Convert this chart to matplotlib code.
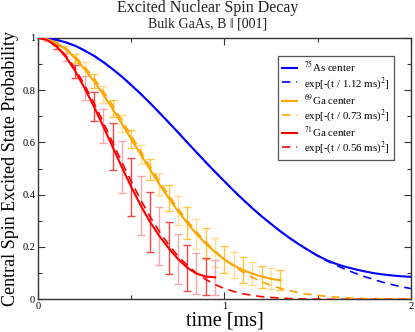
import numpy as np
import matplotlib
matplotlib.use("Agg")
import matplotlib.pyplot as plt

plt.rcParams['font.family'] = ['Liberation Serif', 'DejaVu Serif']
plt.rcParams['mathtext.fontset'] = 'stix'

# sample times [ms], 0.05 ms apart
t = np.round(np.arange(0, 2.0001, 0.05), 2)

# 75As centre (solid) and its Gaussian fit (dashed), 0 .. 2 ms
as_sim = [1.0, 0.998, 0.992, 0.982, 0.969, 0.951, 0.931, 0.907, 0.880, 0.851,
          0.819, 0.786, 0.751, 0.714, 0.677, 0.639, 0.600, 0.562, 0.524, 0.487,
          0.451, 0.415, 0.381, 0.348, 0.317, 0.288, 0.260, 0.234, 0.210, 0.188,
          0.167, 0.149, 0.135, 0.124, 0.115, 0.107, 0.100, 0.095, 0.091, 0.088,
          0.086]
as_fit = [1.0, 0.998, 0.992, 0.982, 0.969, 0.951, 0.931, 0.907, 0.880, 0.851,
          0.819, 0.786, 0.751, 0.714, 0.677, 0.639, 0.600, 0.562, 0.524, 0.487,
          0.451, 0.415, 0.381, 0.348, 0.317, 0.288, 0.260, 0.234, 0.210, 0.187,
          0.166, 0.147, 0.130, 0.114, 0.100, 0.087, 0.076, 0.065, 0.056, 0.048,
          0.041]

# 69Ga centre, 0 .. 1.3 ms
ga69_sim = [1.0, 0.995, 0.979, 0.955, 0.921, 0.880, 0.834, 0.783, 0.728, 0.671,
            0.613, 0.555, 0.497, 0.441, 0.388, 0.338, 0.292, 0.250, 0.213, 0.180,
            0.152, 0.130, 0.112, 0.098, 0.087, 0.078, 0.073]
ga69_fit = [1.0, 0.995, 0.981, 0.959, 0.928, 0.889, 0.845, 0.795, 0.741, 0.684,
            0.626, 0.567, 0.509, 0.453, 0.399, 0.348, 0.301, 0.258, 0.219, 0.184,
            0.153, 0.126, 0.103, 0.084, 0.067, 0.053, 0.042, 0.033, 0.025, 0.019,
            0.015, 0.011, 0.008, 0.006, 0.004, 0.003, 0.002, 0.002, 0.001, 0.001,
            0.001]
ga69_err = [0.0, 0.005, 0.010, 0.014, 0.018, 0.028, 0.028, 0.031, 0.032, 0.033,
            0.035, 0.036, 0.040, 0.043, 0.050, 0.055, 0.060, 0.058, 0.058, 0.055,
            0.052, 0.050, 0.048, 0.045, 0.042, 0.040, 0.038]

# 71Ga centre, 0 .. 0.95 ms
ga71_sim = [1.0, 0.991, 0.966, 0.926, 0.872, 0.807, 0.737, 0.661, 0.583, 0.505,
            0.430, 0.360, 0.297, 0.243, 0.196, 0.155, 0.121, 0.098, 0.087, 0.084]
ga71_fit = [1.0, 0.992, 0.969, 0.931, 0.880, 0.819, 0.751, 0.677, 0.600, 0.524,
            0.451, 0.381, 0.317, 0.260, 0.210, 0.166, 0.130, 0.100, 0.076, 0.056,
            0.041, 0.030, 0.021, 0.015, 0.010, 0.007, 0.005, 0.003, 0.002, 0.001,
            0.001, 0.0, 0.0, 0.0, 0.0, 0.0, 0.0, 0.0, 0.0, 0.0,
            0.0]
ga71_err = [0.0, 0.003, 0.008, 0.015, 0.025, 0.045, 0.055, 0.065, 0.090, 0.100,
            0.110, 0.113, 0.115, 0.110, 0.100, 0.095, 0.088, 0.078, 0.072, 0.068]

labels = [r'$^{75}$As center', r'exp[-(t / 1.12 ms)$^2$]',
          r'$^{69}$Ga center', r'exp[-(t / 0.73 ms)$^2$]',
          r'$^{71}$Ga center', r'exp[-(t / 0.56 ms)$^2$]']

fig = plt.figure(figsize=(4.15, 3.32), dpi=100)
ax = fig.add_axes([0.0916, 0.0985, 0.8984, 0.7879])


def draw_bars(sim, err, dark, light):
    n = len(sim)
    tt = t[:n]
    for k in range(1, n):
        col = dark if k % 2 == 0 else light
        ax.errorbar(tt[k], sim[k], yerr=err[k], fmt='none', ecolor=col,
                    elinewidth=1.0, capsize=2.6, capthick=1.0, zorder=2)


draw_bars(ga69_sim, ga69_err, '#ffc440', '#ffdc94')
draw_bars(ga71_sim, ga71_err, '#f04848', '#f6a6ae')

h = []
h += ax.plot(t, as_sim, color='#0000ff', lw=1.5, zorder=4)
h += ax.plot(t, as_fit, color='#0000ff', lw=1.2, ls=(0, (5, 3.5)), zorder=4)
h += ax.plot(t[:len(ga69_sim)], ga69_sim, color='#ffa500', lw=1.5, zorder=4)
h += ax.plot(t, ga69_fit, color='#ffa500', lw=1.2, ls=(0, (5, 3.5)), zorder=3)
h += ax.plot(t[:len(ga71_sim)], ga71_sim, color='#ff0000', lw=1.5, zorder=4)
h += ax.plot(t, ga71_fit, color='#ff0000', lw=1.2, ls=(0, (5, 3.5)), zorder=3)

ax.set_xlim(0, 2)
ax.set_ylim(0, 1)
ax.set_xticks([0, 1, 2])
ax.set_xticklabels(['0', '1', '2'])
ax.set_xticks([0.5, 1.5], minor=True)
ax.set_yticks([0, 0.2, 0.4, 0.6, 0.8, 1])
ax.set_yticklabels(['0', '0.2', '0.4', '0.6', '0.8', '1'])
ax.set_yticks(np.arange(0.1, 1.0, 0.2), minor=True)
ax.tick_params(which='both', direction='in', top=True, right=True,
               labelsize=7.5, color='#333333', pad=2)
ax.tick_params(which='major', length=5, width=0.8)
ax.tick_params(which='minor', length=3, width=0.8)
for s in ax.spines.values():
    s.set_color('#333333')
    s.set_linewidth(1.0)

ax.set_xlabel('time [ms]', fontsize=14.5, labelpad=0)
ax.set_ylabel('Central Spin Excited State Probability', fontsize=13, labelpad=2)

fig.text(0.5, 0.975, 'Excited Nuclear Spin Decay', ha='center', va='center',
         fontsize=11.5, color='#222222')
fig.text(0.5, 0.927, 'Bulk GaAs, B \u2016 [001]', ha='center', va='center',
         fontsize=10, color='#222222')

leg = ax.legend(h, labels, loc='upper right', bbox_to_anchor=(0.954, 0.931),
                fontsize=7.8, frameon=True, fancybox=False, framealpha=1,
                edgecolor='#555555', handlelength=1.45, handletextpad=0.65,
                labelspacing=0.05, borderpad=0.35, borderaxespad=0)
leg.get_frame().set_linewidth(0.9)

fig.savefig('out.png', dpi=100)
